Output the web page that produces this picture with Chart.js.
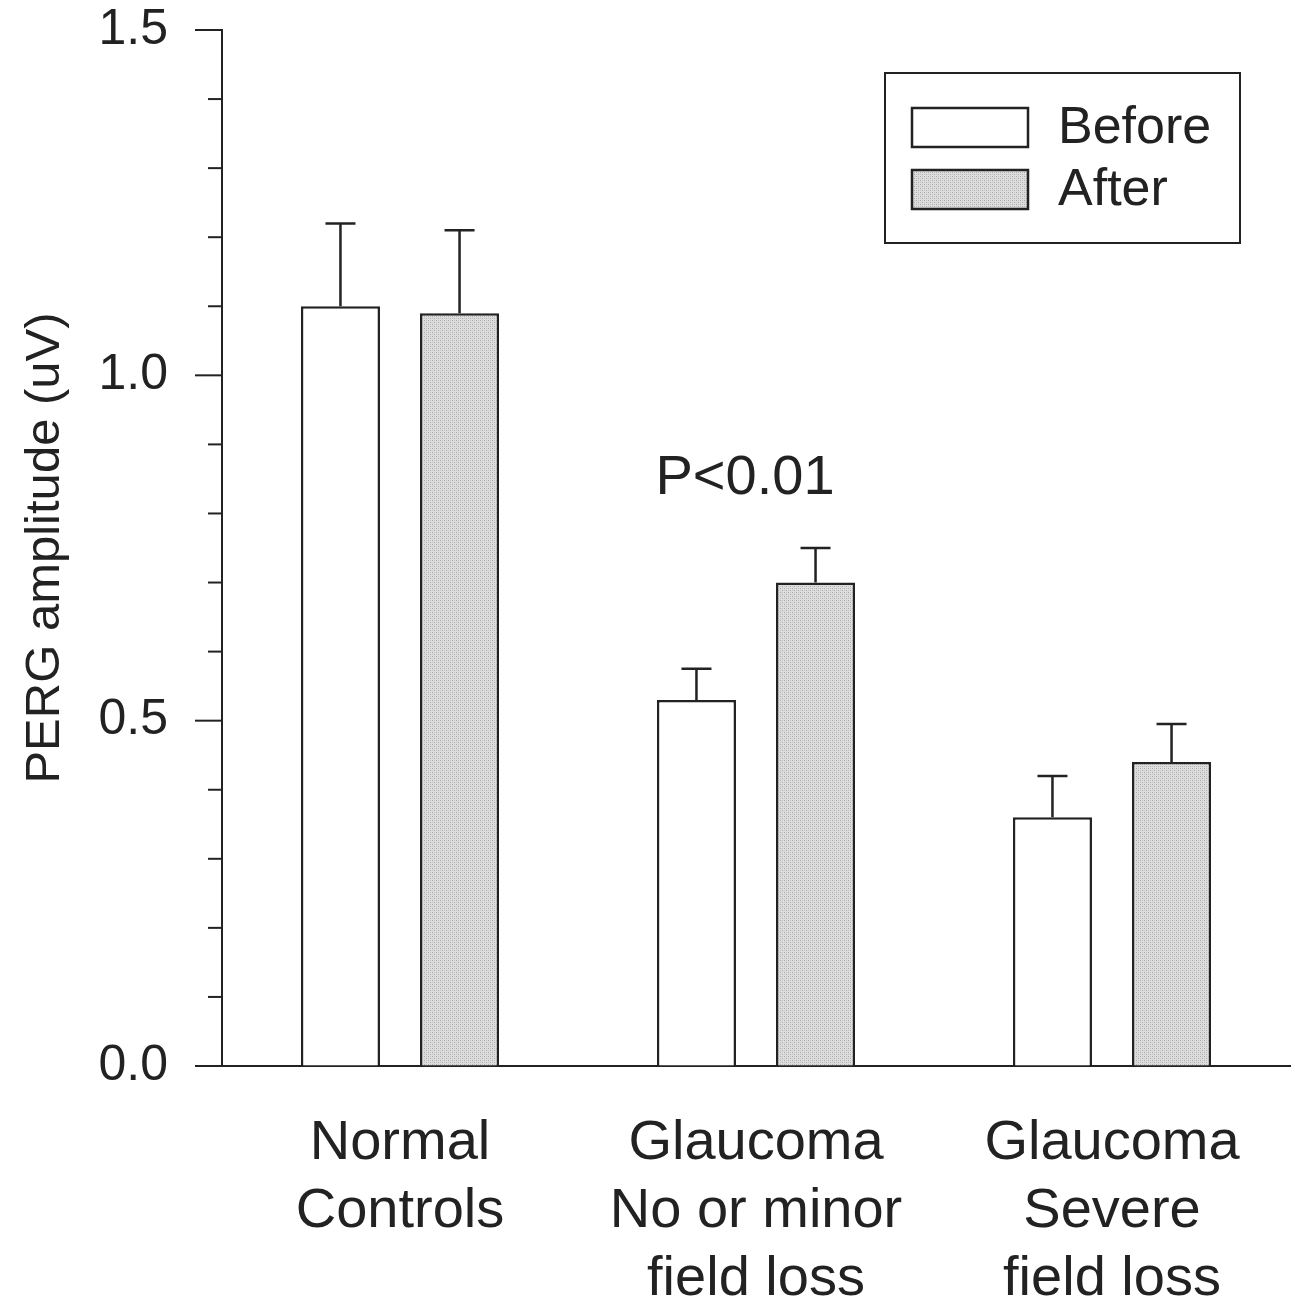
<!DOCTYPE html>
<html>
<head>
<meta charset="utf-8">
<script src="https://cdn.jsdelivr.net/npm/chart.js@4.4.1/dist/chart.umd.min.js"></script>
<style>
  html, body { margin: 0; padding: 0; background: #fff; }
  #wrap { width: 1295px; height: 1298px; }
</style>
</head>
<body>
<div id="wrap"><canvas id="chart" width="1295" height="1298"></canvas></div>
<script>
const categories = [
  ["Normal", "Controls"],
  ["Glaucoma", "No or minor", "field loss"],
  ["Glaucoma", "Severe", "field loss"]
];
const beforeValues = [1.10, 0.53, 0.36];
const afterValues = [1.09, 0.70, 0.44];
const beforeErrors = [0.12, 0.045, 0.06];
const afterErrors = [0.12, 0.05, 0.055];
const yTicks = [0, 0.5, 1.0, 1.5];

const FONT = "'Liberation Sans', Arial, Helvetica, sans-serif";
const INK = "#222";

// stippled grey fill like the print
function makePattern() {
  const c = document.createElement("canvas");
  c.width = 4; c.height = 4;
  const g = c.getContext("2d");
  g.fillStyle = "#dedede";
  g.fillRect(0, 0, 4, 4);
  g.fillStyle = "#a9a9a9";
  g.fillRect(0, 0, 1, 1);
  g.fillRect(2, 2, 1, 1);
  g.fillStyle = "#c4c4c4";
  g.fillRect(2, 0, 1, 1);
  g.fillRect(0, 2, 1, 1);
  return g.createPattern(c, "repeat");
}
const afterFill = makePattern();

const errorBars = {
  id: "errorBars",
  afterDatasetsDraw(chart) {
    const ctx = chart.ctx;
    const y = chart.scales.y;
    const errs = [beforeErrors, afterErrors];
    chart.data.datasets.forEach((ds, i) => {
      chart.getDatasetMeta(i).data.forEach((bar, j) => {
        const top = y.getPixelForValue(ds.data[j] + errs[i][j]);
        ctx.save();
        ctx.strokeStyle = INK;
        ctx.lineWidth = 2.5;
        ctx.beginPath();
        ctx.moveTo(bar.x, bar.y);
        ctx.lineTo(bar.x, top);
        ctx.moveTo(bar.x - 15, top);
        ctx.lineTo(bar.x + 15, top);
        ctx.stroke();
        ctx.restore();
      });
    });
  }
};

const yTickMarks = {
  id: "yTickMarks",
  afterDraw(chart) {
    const ctx = chart.ctx;
    const y = chart.scales.y;
    const x0 = chart.chartArea.left;
    ctx.save();
    ctx.strokeStyle = INK;
    ctx.lineWidth = 2;
    for (let k = 0; k <= 15; k++) {
      const v = k / 10;
      const py = y.getPixelForValue(v);
      const major = yTicks.some(t => Math.abs(t - v) < 1e-6);
      ctx.beginPath();
      ctx.moveTo(x0, py);
      ctx.lineTo(x0 - (major ? 27 : 14), py);
      ctx.stroke();
    }
    ctx.restore();
  }
};

const annotations = {
  id: "annotations",
  afterDraw(chart) {
    const ctx = chart.ctx;
    const x = chart.scales.x;
    const y = chart.scales.y;
    const area = chart.chartArea;
    ctx.save();
    // significance label
    ctx.fillStyle = INK;
    ctx.font = "56px " + FONT;
    ctx.textAlign = "center";
    ctx.textBaseline = "middle";
    ctx.fillText("P<0.01", x.getPixelForValue(1) - 11, y.getPixelForValue(0.85));

    // boxed legend
    const bx = area.right - 405, by = area.top + 43;
    ctx.strokeStyle = INK;
    ctx.lineWidth = 2;
    ctx.strokeRect(bx, by, 355, 170);
    const items = [
      { label: "Before", fill: "#ffffff" },
      { label: "After", fill: afterFill }
    ];
    items.forEach((it, i) => {
      const sy = by + 35 + i * 62;
      ctx.fillStyle = it.fill;
      ctx.fillRect(bx + 27, sy, 116, 39);
      ctx.lineWidth = 2.5;
      ctx.strokeRect(bx + 27, sy, 116, 39);
      ctx.fillStyle = INK;
      ctx.font = "52px " + FONT;
      ctx.textAlign = "left";
      ctx.fillText(it.label, bx + 173, sy + 21);
    });
    ctx.restore();
  }
};

new Chart(document.getElementById("chart"), {
  type: "bar",
  data: {
    labels: categories,
    datasets: [
      {
        label: "Before",
        data: beforeValues,
        backgroundColor: "#ffffff",
        borderColor: INK,
        borderWidth: 2.5,
        categoryPercentage: 0.669,
        barPercentage: 0.664
      },
      {
        label: "After",
        data: afterValues,
        backgroundColor: afterFill,
        borderColor: INK,
        borderWidth: 2.5,
        categoryPercentage: 0.669,
        barPercentage: 0.664
      }
    ]
  },
  plugins: [errorBars, yTickMarks, annotations],
  options: {
    responsive: false,
    animation: false,
    layout: { padding: { top: 30, right: 5, left: 0, bottom: 0 } },
    plugins: {
      legend: { display: false },
      tooltip: { enabled: false }
    },
    scales: {
      x: {
        grid: { display: false },
        border: { display: true, color: INK, width: 2 },
        ticks: {
          color: INK,
          font: { family: FONT, size: 56, lineHeight: 1.21 },
          padding: 36,
          maxRotation: 0,
          autoSkip: false
        },
        afterFit(scale) { scale.height = 232; }
      },
      y: {
        min: 0,
        max: 1.5,
        grid: {
          display: true,
          drawOnChartArea: false,
          drawTicks: true,
          tickLength: 54,
          tickColor: "rgba(0,0,0,0)"
        },
        border: { display: true, color: INK, width: 2 },
        ticks: {
          stepSize: 0.1,
          autoSkip: false,
          color: INK,
          padding: 0,
          font: { family: FONT, size: 50 },
          callback(v) {
            return yTicks.some(t => Math.abs(t - v) < 1e-6) ? v.toFixed(1) : "";
          }
        },
        title: {
          display: true,
          text: "PERG amplitude (uV)",
          color: INK,
          font: { family: FONT, size: 49 },
          padding: { top: 16, bottom: 0 }
        },
        afterFit(scale) { scale.width = 222; }
      }
    }
  }
});
</script>
</body>
</html>
